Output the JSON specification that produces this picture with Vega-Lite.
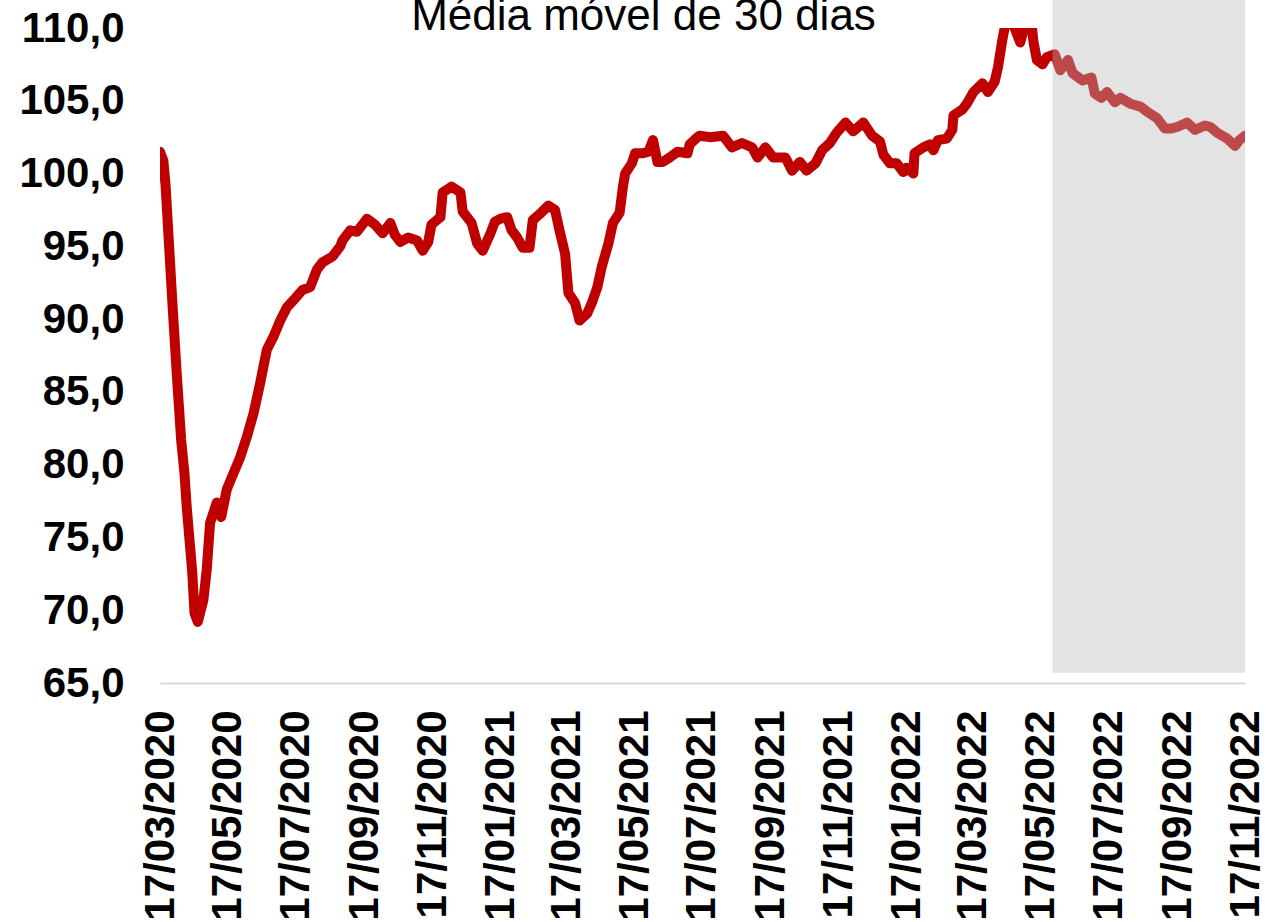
{
  "$schema": "https://vega.github.io/schema/vega-lite/v6.json",
  "autosize": "none",
  "padding": {"left": 160, "top": 28, "right": 28, "bottom": 239},
  "width": 1085,
  "height": 655,
  "background": "white",
  "config": {"view": {"stroke": null}},
  "title": {
    "text": "Média móvel de 30 dias",
    "font": "Liberation Sans",
    "fontSize": 44,
    "fontWeight": "normal",
    "color": "#000000",
    "anchor": "middle",
    "frame": "group",
    "dx": -59,
    "dy": 44
  },
  "layer": [
    {
      "data": {"values": [
        {"date": "2020-03-17", "value": 101.5},
        {"date": "2020-03-20", "value": 100.9},
        {"date": "2020-03-22", "value": 99.2},
        {"date": "2020-03-28", "value": 91.3},
        {"date": "2020-04-01", "value": 86.3},
        {"date": "2020-04-05", "value": 81.7},
        {"date": "2020-04-08", "value": 79.4},
        {"date": "2020-04-10", "value": 77.1},
        {"date": "2020-04-15", "value": 72.6},
        {"date": "2020-04-17", "value": 69.8},
        {"date": "2020-04-20", "value": 69.2},
        {"date": "2020-04-25", "value": 70.7},
        {"date": "2020-04-28", "value": 72.8},
        {"date": "2020-05-01", "value": 76.0},
        {"date": "2020-05-07", "value": 77.4},
        {"date": "2020-05-11", "value": 76.4},
        {"date": "2020-05-16", "value": 78.3},
        {"date": "2020-05-22", "value": 79.4},
        {"date": "2020-05-28", "value": 80.5},
        {"date": "2020-06-03", "value": 81.9},
        {"date": "2020-06-09", "value": 83.5},
        {"date": "2020-06-15", "value": 85.6},
        {"date": "2020-06-21", "value": 87.9},
        {"date": "2020-06-27", "value": 88.8},
        {"date": "2020-07-03", "value": 89.9},
        {"date": "2020-07-09", "value": 90.8},
        {"date": "2020-07-15", "value": 91.3},
        {"date": "2020-07-23", "value": 92.0},
        {"date": "2020-07-30", "value": 92.2},
        {"date": "2020-08-05", "value": 93.4},
        {"date": "2020-08-10", "value": 93.9},
        {"date": "2020-08-19", "value": 94.3},
        {"date": "2020-08-26", "value": 95.0},
        {"date": "2020-08-28", "value": 95.4},
        {"date": "2020-09-04", "value": 96.1},
        {"date": "2020-09-10", "value": 96.0},
        {"date": "2020-09-19", "value": 96.9},
        {"date": "2020-09-26", "value": 96.5},
        {"date": "2020-10-03", "value": 95.9},
        {"date": "2020-10-10", "value": 96.6},
        {"date": "2020-10-14", "value": 95.8},
        {"date": "2020-10-19", "value": 95.3},
        {"date": "2020-10-26", "value": 95.6},
        {"date": "2020-11-03", "value": 95.4},
        {"date": "2020-11-08", "value": 94.7},
        {"date": "2020-11-13", "value": 95.3},
        {"date": "2020-11-16", "value": 96.5},
        {"date": "2020-11-24", "value": 97.0},
        {"date": "2020-11-26", "value": 98.7},
        {"date": "2020-12-04", "value": 99.1},
        {"date": "2020-12-12", "value": 98.7},
        {"date": "2020-12-14", "value": 97.4},
        {"date": "2020-12-22", "value": 96.6},
        {"date": "2020-12-27", "value": 95.2},
        {"date": "2021-01-01", "value": 94.7},
        {"date": "2021-01-08", "value": 95.9},
        {"date": "2021-01-12", "value": 96.7},
        {"date": "2021-01-17", "value": 96.9},
        {"date": "2021-01-23", "value": 97.0},
        {"date": "2021-01-27", "value": 96.1},
        {"date": "2021-02-01", "value": 95.6},
        {"date": "2021-02-06", "value": 94.9},
        {"date": "2021-02-12", "value": 94.9},
        {"date": "2021-02-15", "value": 96.8},
        {"date": "2021-02-21", "value": 97.2},
        {"date": "2021-03-01", "value": 97.8},
        {"date": "2021-03-07", "value": 97.5},
        {"date": "2021-03-11", "value": 96.1},
        {"date": "2021-03-16", "value": 94.5},
        {"date": "2021-03-19", "value": 91.8},
        {"date": "2021-03-25", "value": 91.1},
        {"date": "2021-03-29", "value": 89.9},
        {"date": "2021-04-05", "value": 90.4},
        {"date": "2021-04-09", "value": 91.1},
        {"date": "2021-04-14", "value": 92.2},
        {"date": "2021-04-18", "value": 93.6},
        {"date": "2021-04-24", "value": 95.2},
        {"date": "2021-04-28", "value": 96.6},
        {"date": "2021-05-04", "value": 97.3},
        {"date": "2021-05-07", "value": 99.1},
        {"date": "2021-05-09", "value": 100.0},
        {"date": "2021-05-15", "value": 100.7},
        {"date": "2021-05-18", "value": 101.4},
        {"date": "2021-05-25", "value": 101.4},
        {"date": "2021-05-30", "value": 101.5},
        {"date": "2021-06-03", "value": 102.3},
        {"date": "2021-06-07", "value": 100.8},
        {"date": "2021-06-12", "value": 100.8},
        {"date": "2021-06-18", "value": 101.1},
        {"date": "2021-06-25", "value": 101.5},
        {"date": "2021-07-04", "value": 101.4},
        {"date": "2021-07-06", "value": 102.0},
        {"date": "2021-07-13", "value": 102.5},
        {"date": "2021-07-15", "value": 102.6},
        {"date": "2021-07-24", "value": 102.5},
        {"date": "2021-08-05", "value": 102.6},
        {"date": "2021-08-13", "value": 101.8},
        {"date": "2021-08-22", "value": 102.1},
        {"date": "2021-08-31", "value": 101.8},
        {"date": "2021-09-05", "value": 101.1},
        {"date": "2021-09-12", "value": 101.8},
        {"date": "2021-09-19", "value": 101.1},
        {"date": "2021-09-30", "value": 101.1},
        {"date": "2021-10-06", "value": 100.2},
        {"date": "2021-10-13", "value": 100.8},
        {"date": "2021-10-19", "value": 100.2},
        {"date": "2021-10-27", "value": 100.7},
        {"date": "2021-11-02", "value": 101.6},
        {"date": "2021-11-09", "value": 102.1},
        {"date": "2021-11-15", "value": 102.8},
        {"date": "2021-11-23", "value": 103.5},
        {"date": "2021-11-30", "value": 102.9},
        {"date": "2021-12-09", "value": 103.5},
        {"date": "2021-12-17", "value": 102.6},
        {"date": "2021-12-24", "value": 102.2},
        {"date": "2021-12-27", "value": 101.3},
        {"date": "2022-01-02", "value": 100.7},
        {"date": "2022-01-08", "value": 100.7},
        {"date": "2022-01-14", "value": 100.1},
        {"date": "2022-01-17", "value": 100.4},
        {"date": "2022-01-23", "value": 100.0},
        {"date": "2022-01-24", "value": 101.4},
        {"date": "2022-02-01", "value": 101.8},
        {"date": "2022-02-07", "value": 102.0},
        {"date": "2022-02-10", "value": 101.6},
        {"date": "2022-02-14", "value": 102.3},
        {"date": "2022-02-22", "value": 102.4},
        {"date": "2022-02-27", "value": 103.0},
        {"date": "2022-02-28", "value": 104.0},
        {"date": "2022-03-08", "value": 104.4},
        {"date": "2022-03-12", "value": 104.8},
        {"date": "2022-03-18", "value": 105.6},
        {"date": "2022-03-26", "value": 106.2},
        {"date": "2022-03-31", "value": 105.6},
        {"date": "2022-04-06", "value": 106.3},
        {"date": "2022-04-09", "value": 107.3},
        {"date": "2022-04-13", "value": 109.2},
        {"date": "2022-04-16", "value": 110.4},
        {"date": "2022-04-22", "value": 110.4},
        {"date": "2022-04-29", "value": 109.0},
        {"date": "2022-05-04", "value": 110.4},
        {"date": "2022-05-09", "value": 110.4},
        {"date": "2022-05-11", "value": 109.0},
        {"date": "2022-05-14", "value": 107.8},
        {"date": "2022-05-19", "value": 107.5},
        {"date": "2022-05-23", "value": 108.0},
        {"date": "2022-05-30", "value": 108.2},
        {"date": "2022-06-04", "value": 107.1},
        {"date": "2022-06-11", "value": 107.8},
        {"date": "2022-06-15", "value": 106.9},
        {"date": "2022-06-24", "value": 106.4},
        {"date": "2022-07-02", "value": 106.6},
        {"date": "2022-07-05", "value": 105.5},
        {"date": "2022-07-11", "value": 105.2},
        {"date": "2022-07-16", "value": 105.6},
        {"date": "2022-07-23", "value": 104.9},
        {"date": "2022-07-28", "value": 105.2},
        {"date": "2022-08-06", "value": 104.8},
        {"date": "2022-08-15", "value": 104.6},
        {"date": "2022-08-22", "value": 104.2},
        {"date": "2022-08-30", "value": 103.8},
        {"date": "2022-09-06", "value": 103.1},
        {"date": "2022-09-12", "value": 103.1},
        {"date": "2022-09-17", "value": 103.2},
        {"date": "2022-09-26", "value": 103.5},
        {"date": "2022-10-03", "value": 103.0},
        {"date": "2022-10-12", "value": 103.3},
        {"date": "2022-10-17", "value": 103.2},
        {"date": "2022-10-23", "value": 102.8},
        {"date": "2022-11-01", "value": 102.4},
        {"date": "2022-11-08", "value": 101.9},
        {"date": "2022-11-12", "value": 102.3},
        {"date": "2022-11-17", "value": 102.6}
      ]},
      "mark": {"type": "line", "color": "#C00000", "strokeWidth": 10, "strokeCap": "round", "strokeJoin": "round", "clip": true},
      "encoding": {
        "x": {
          "field": "date",
          "type": "temporal",
          "scale": {
            "type": "utc",
            "domain": [{"year": 2020, "month": 3, "date": 17, "utc": true}, {"year": 2022, "month": 11, "date": 17, "utc": true}],
            "nice": false,
            "padding": 0
          },
          "axis": {
            "title": null,
            "values": [
              {"year": 2020, "month": 3, "date": 17, "utc": true},
              {"year": 2020, "month": 5, "date": 17, "utc": true},
              {"year": 2020, "month": 7, "date": 17, "utc": true},
              {"year": 2020, "month": 9, "date": 17, "utc": true},
              {"year": 2020, "month": 11, "date": 17, "utc": true},
              {"year": 2021, "month": 1, "date": 17, "utc": true},
              {"year": 2021, "month": 3, "date": 17, "utc": true},
              {"year": 2021, "month": 5, "date": 17, "utc": true},
              {"year": 2021, "month": 7, "date": 17, "utc": true},
              {"year": 2021, "month": 9, "date": 17, "utc": true},
              {"year": 2021, "month": 11, "date": 17, "utc": true},
              {"year": 2022, "month": 1, "date": 17, "utc": true},
              {"year": 2022, "month": 3, "date": 17, "utc": true},
              {"year": 2022, "month": 5, "date": 17, "utc": true},
              {"year": 2022, "month": 7, "date": 17, "utc": true},
              {"year": 2022, "month": 9, "date": 17, "utc": true},
              {"year": 2022, "month": 11, "date": 17, "utc": true}
            ],
            "labelExpr": "utcFormat(datum.value, '%d/%m/%Y')",
            "labelAngle": -90,
            "labelFont": "Liberation Sans",
            "labelFontWeight": "bold",
            "labelFontSize": 42,
            "labelColor": "#000000",
            "labelPadding": 27,
            "labelLimit": 0,
            "labelOverlap": false,
            "labelFlush": false,
            "labelBound": false,
            "ticks": false,
            "tickSize": 0,
            "grid": false,
            "domain": true,
            "domainColor": "#d9d9d9",
            "domainWidth": 2
          }
        },
        "y": {
          "field": "value",
          "type": "quantitative",
          "scale": {"domain": [65, 110], "nice": false, "zero": false},
          "axis": {
            "title": null,
            "values": [65, 70, 75, 80, 85, 90, 95, 100, 105, 110],
            "labelExpr": "replace(format(datum.value, '.1f'), '.', ',')",
            "labelFont": "Liberation Sans",
            "labelFontWeight": "bold",
            "labelFontSize": 42,
            "labelColor": "#000000",
            "labelPadding": 36,
            "labelLimit": 0,
            "labelOverlap": false,
            "labelFlush": false,
            "labelBound": false,
            "ticks": false,
            "tickSize": 0,
            "grid": false,
            "domain": false
          }
        }
      }
    },
    {
      "data": {"values": [
        {"start": "2022-05-28", "end": "2022-11-17", "low": 65.7, "high": 112}
      ]},
      "mark": {"type": "rect", "fill": "#bababa", "opacity": 0.4, "clip": false},
      "encoding": {
        "x": {"field": "start", "type": "temporal"},
        "x2": {"field": "end"},
        "y": {"field": "low", "type": "quantitative"},
        "y2": {"field": "high"}
      }
    }
  ]
}
